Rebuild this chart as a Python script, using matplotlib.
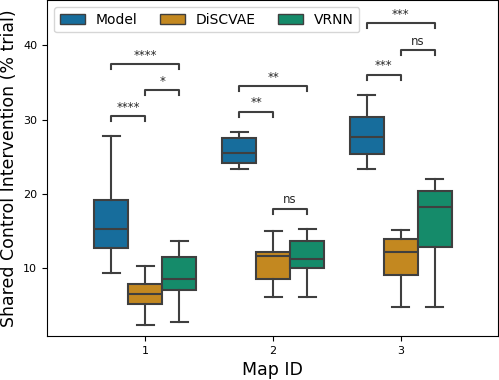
import matplotlib

matplotlib.use("Agg")
import matplotlib.pyplot as plt
import seaborn as sns
from matplotlib.patches import Patch

maps = ["1", "2", "3"]
methods = ["Model", "DiSCVAE", "VRNN"]

# box stats per map, one entry per method (Model, DiSCVAE, VRNN)
whislo = [[9.4, 2.3, 2.7], [23.3, 6.1, 6.1], [23.3, 4.7, 4.7]]
q1 = [[12.65, 5.2, 7.1], [24.1, 8.55, 10.0], [25.4, 9.0, 12.8]]
med = [[15.25, 6.5, 8.5], [25.5, 11.6, 11.25], [27.6, 12.1, 18.2]]
q3 = [[19.15, 7.8, 11.5], [27.45, 12.2, 13.6], [30.3, 13.85, 20.35]]
whishi = [[27.8, 10.3, 13.6], [28.3, 15.0, 15.2], [33.25, 15.1, 22.0]]

# significance brackets: (map index, method a, method b, height, label)
sig_map = [0, 0, 0, 1, 1, 1, 2, 2, 2]
sig_a = [0, 1, 0, 0, 0, 1, 0, 1, 0]
sig_b = [1, 2, 2, 1, 2, 2, 1, 2, 2]
sig_y = [30.45, 33.95, 37.45, 31.05, 34.5, 17.95, 36.0, 39.35, 42.95]
sig_label = ["****", "*", "****", "**", "**", "ns", "***", "ns", "***"]

base = sns.color_palette("colorblind", 3)
colors = [sns.desaturate(c, 0.75) for c in base]
edge = "#3f3f3f"

fig = plt.figure(figsize=(4.99, 3.8), dpi=100)
ax = fig.add_axes([47 / 499, 44 / 380, 451 / 499, 336 / 380 - 0.001])

w = 0.8 / 3
for i in range(len(maps)):
    for j in range(len(methods)):
        pos = i + (j - 1) * w
        st = dict(whislo=whislo[i][j], q1=q1[i][j], med=med[i][j],
                  q3=q3[i][j], whishi=whishi[i][j], fliers=[])
        ax.bxp([st], positions=[pos], widths=w, patch_artist=True,
               showfliers=False,
               boxprops=dict(facecolor=colors[j], edgecolor=edge, linewidth=1.5),
               medianprops=dict(color=edge, linewidth=1.5),
               whiskerprops=dict(color=edge, linewidth=1.5),
               capprops=dict(color=edge, linewidth=1.5),
               capwidths=w / 2, manage_ticks=False)

tick_h = 0.67
for m, a, b, y, lab in zip(sig_map, sig_a, sig_b, sig_y, sig_label):
    x1 = m + (a - 1) * w
    x2 = m + (b - 1) * w
    ax.plot([x1, x1, x2, x2], [y - tick_h, y, y, y - tick_h], color=edge, lw=1.5)
    ax.text((x1 + x2) / 2, y + 0.35, lab, ha="center", va="bottom",
            fontsize=8.5, color="#262626")

ax.set_xlim(-0.77, 2.76)
ax.set_ylim(0.85, 46.05)
ax.set_xticks(range(len(maps)))
ax.set_xticklabels(maps)
ax.set_yticks([10, 20, 30, 40])
ax.tick_params(labelsize=8)
ax.set_xlabel("Map ID", fontsize=12.5)
ax.set_ylabel("Shared Control Intervention (% trial)", fontsize=12.5)

handles = [Patch(facecolor=colors[j], edgecolor=edge, linewidth=1.0, label=methods[j])
           for j in range(len(methods))]
ax.legend(handles=handles, loc="upper left", ncol=3, fontsize=10,
          handlelength=1.8, columnspacing=1.6)

fig.savefig("out.png", dpi=100)
